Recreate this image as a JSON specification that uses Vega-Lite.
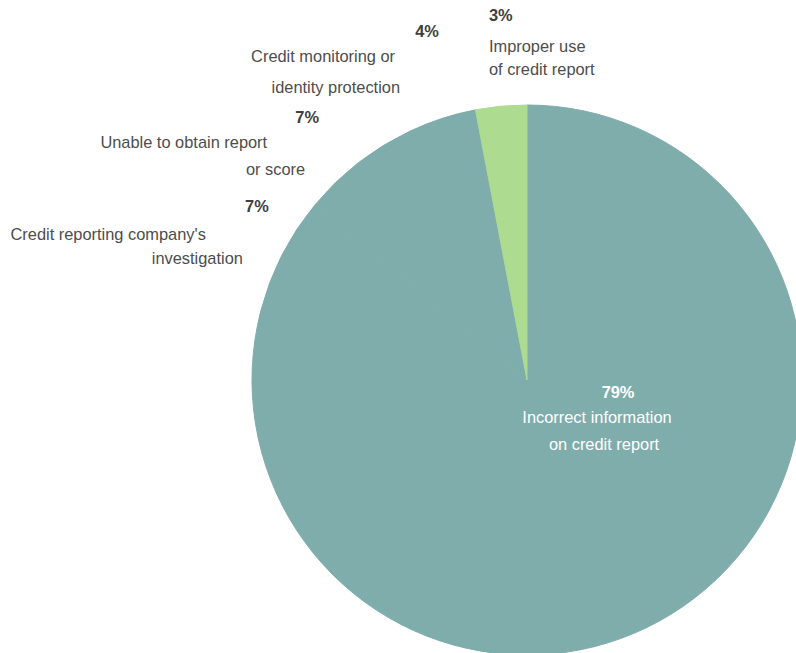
{
  "$schema": "https://vega.github.io/schema/vega-lite/v6.json",
  "width": 538,
  "height": 546,
  "autosize": {"type": "none"},
  "padding": {"left": 258, "top": 107, "right": 0, "bottom": 0},
  "background": "white",
  "config": {"view": {"stroke": null}, "text": {"font": "Liberation Sans", "fontSize": 16.4}},
  "data": {"values": [
    {"category": "Incorrect information on credit report", "rank": 1, "value": 79, "pct": "79%", "line1": "Incorrect information", "line2": "on credit report"},
    {"category": "Credit reporting company's investigation", "rank": 2, "value": 7, "pct": "7%", "line1": "Credit reporting company's", "line2": "investigation"},
    {"category": "Unable to obtain report or score", "rank": 3, "value": 7, "pct": "7%", "line1": "Unable to obtain report", "line2": "or score"},
    {"category": "Credit monitoring or identity protection", "rank": 4, "value": 4, "pct": "4%", "line1": "Credit monitoring or", "line2": "identity protection"},
    {"category": "Improper use of credit report", "rank": 5, "value": 3, "pct": "3%", "line1": "Improper use", "line2": "of credit report"}
  ]},
  "encoding": {
    "theta": {"field": "value", "type": "quantitative", "stack": true},
    "order": {"field": "rank", "type": "quantitative"},
    "detail": {"field": "category", "type": "nominal"}
  },
  "layer": [
    {"mark": {"type": "arc", "radius": 275, "strokeWidth": 1},
     "encoding": {
       "color": {"field": "category", "type": "nominal", "legend": null,
         "scale": {"domain": ["Incorrect information on credit report", "Credit reporting company's investigation", "Unable to obtain report or score", "Credit monitoring or identity protection", "Improper use of credit report"],
                   "range": ["#7FADAC", "#7FADAC", "#7FADAC", "#7FADAC", "#ADDB8F"]}},
       "stroke": {"field": "category", "type": "nominal", "legend": null,
         "scale": {"domain": ["Incorrect information on credit report", "Credit reporting company's investigation", "Unable to obtain report or score", "Credit monitoring or identity protection", "Improper use of credit report"],
                   "range": ["#7FADAC", "#7FADAC", "#7FADAC", "#7FADAC", "#ADDB8F"]}}}},

    {"mark": {"type": "text", "radius": 80, "align": "center", "baseline": "middle", "dx": 42, "dy": -50, "color": "white", "fontWeight": "bold"},
     "encoding": {"text": {"condition": {"test": "datum.rank === 1", "field": "pct"}, "value": ""}}},
    {"mark": {"type": "text", "radius": 80, "align": "center", "baseline": "middle", "dx": 21, "dy": -25, "color": "white"},
     "encoding": {"text": {"condition": {"test": "datum.rank === 1", "field": "line1"}, "value": ""}}},
    {"mark": {"type": "text", "radius": 80, "align": "center", "baseline": "middle", "dx": 28, "dy": 2, "color": "white"},
     "encoding": {"text": {"condition": {"test": "datum.rank === 1", "field": "line2"}, "value": ""}}},

    {"mark": {"type": "text", "radius": 320, "align": "center", "baseline": "middle", "dx": 15, "dy": -28, "color": "#404040", "fontWeight": "bold"},
     "encoding": {"text": {"condition": {"test": "datum.rank === 2", "field": "pct"}, "value": ""}}},
    {"mark": {"type": "text", "radius": 320, "align": "right", "baseline": "middle", "dx": -36, "dy": 0, "color": "#4d4d4d"},
     "encoding": {"text": {"condition": {"test": "datum.rank === 2", "field": "line1"}, "value": ""}}},
    {"mark": {"type": "text", "radius": 320, "align": "right", "baseline": "middle", "dx": 1, "dy": 24, "color": "#4d4d4d"},
     "encoding": {"text": {"condition": {"test": "datum.rank === 2", "field": "line2"}, "value": ""}}},

    {"mark": {"type": "text", "radius": 300, "align": "center", "baseline": "middle", "dx": -36, "dy": -25, "color": "#404040", "fontWeight": "bold"},
     "encoding": {"text": {"condition": {"test": "datum.rank === 3", "field": "pct"}, "value": ""}}},
    {"mark": {"type": "text", "radius": 300, "align": "right", "baseline": "middle", "dx": -76, "dy": 0, "color": "#4d4d4d"},
     "encoding": {"text": {"condition": {"test": "datum.rank === 3", "field": "line1"}, "value": ""}}},
    {"mark": {"type": "text", "radius": 300, "align": "right", "baseline": "middle", "dx": -38, "dy": 27, "color": "#4d4d4d"},
     "encoding": {"text": {"condition": {"test": "datum.rank === 3", "field": "line2"}, "value": ""}}},

    {"mark": {"type": "text", "radius": 330, "align": "center", "baseline": "middle", "dx": 2, "dy": -34, "color": "#404040", "fontWeight": "bold"},
     "encoding": {"text": {"condition": {"test": "datum.rank === 4", "field": "pct"}, "value": ""}}},
    {"mark": {"type": "text", "radius": 330, "align": "right", "baseline": "middle", "dx": -30, "dy": -9, "color": "#4d4d4d"},
     "encoding": {"text": {"condition": {"test": "datum.rank === 4", "field": "line1"}, "value": ""}}},
    {"mark": {"type": "text", "radius": 330, "align": "right", "baseline": "middle", "dx": -25, "dy": 22, "color": "#4d4d4d"},
     "encoding": {"text": {"condition": {"test": "datum.rank === 4", "field": "line2"}, "value": ""}}},

    {"mark": {"type": "text", "radius": 330, "align": "left", "baseline": "middle", "dx": -7, "dy": -35, "color": "#404040", "fontWeight": "bold"},
     "encoding": {"text": {"condition": {"test": "datum.rank === 5", "field": "pct"}, "value": ""}}},
    {"mark": {"type": "text", "radius": 330, "align": "left", "baseline": "middle", "dx": -7, "dy": -4, "color": "#4d4d4d"},
     "encoding": {"text": {"condition": {"test": "datum.rank === 5", "field": "line1"}, "value": ""}}},
    {"mark": {"type": "text", "radius": 330, "align": "left", "baseline": "middle", "dx": -7, "dy": 19, "color": "#4d4d4d"},
     "encoding": {"text": {"condition": {"test": "datum.rank === 5", "field": "line2"}, "value": ""}}}
  ]
}
